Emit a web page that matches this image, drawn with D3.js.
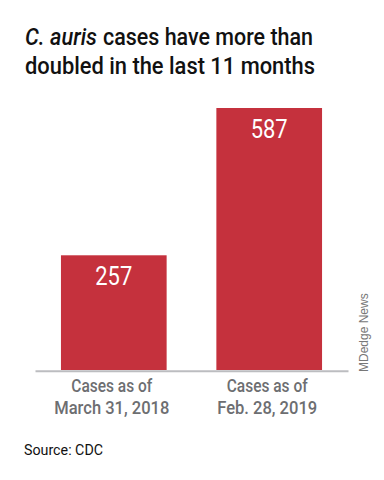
<!DOCTYPE html>
<html>
<head>
<meta charset="utf-8">
<script src="https://cdn.jsdelivr.net/npm/d3@7"></script>
<style>
  body { margin: 0; background: #fff; }
  svg { display: block; }
  .cond { font-family: "Roboto", "Liberation Sans", sans-serif; }
</style>
</head>
<body>
<svg id="chart" width="384" height="480"></svg>
<script>
// Data
const categories = ["March 31, 2018", "Feb. 28, 2019"];
const catPrefix = ["Cases as of", "Cases as of"];
const cases = [257, 587];
// measured label widths, used to squeeze Roboto into a condensed look
const catWidths = [115, 100];
const prefixWidth = 81;

const svg = d3.select("#chart");
const width = 384;
const height = 480;
const baseY = 370;

// Scales
const x = d3.scaleBand()
  .domain(categories)
  .range([35, 348])
  .paddingInner(0.32)
  .paddingOuter(0.167);

const y = d3.scaleLinear()
  .domain([0, 587])
  .range([baseY, 108]);

// Title
const title = svg.append("text")
  .attr("class", "cond")
  .attr("y", 45)
  .attr("font-size", 23)
  .attr("font-weight", 500)
  .attr("fill", "#111");
title.append("tspan")
  .attr("x", 25)
  .attr("font-style", "italic")
  .attr("textLength", 72)
  .attr("lengthAdjust", "spacingAndGlyphs")
  .text("C. auris");
title.append("tspan")
  .attr("x", 103)
  .attr("textLength", 210)
  .attr("lengthAdjust", "spacingAndGlyphs")
  .text("cases have more than");

svg.append("text")
  .attr("class", "cond")
  .attr("x", 25)
  .attr("y", 74)
  .attr("font-size", 23)
  .attr("font-weight", 500)
  .attr("fill", "#111")
  .attr("textLength", 290)
  .attr("lengthAdjust", "spacingAndGlyphs")
  .text("doubled in the last 11 months");

// Bars
svg.selectAll("rect.bar")
  .data(cases)
  .join("rect")
  .attr("class", "bar")
  .attr("x", (d, i) => x(categories[i]))
  .attr("y", d => y(d))
  .attr("width", x.bandwidth())
  .attr("height", d => baseY - y(d))
  .attr("fill", "#c5313d");

// Value labels
svg.selectAll("text.val")
  .data(cases)
  .join("text")
  .attr("class", "val cond")
  .attr("x", (d, i) => x(categories[i]) + x.bandwidth() / 2)
  .attr("y", d => y(d) + 30)
  .attr("text-anchor", "middle")
  .attr("font-size", 25)
  .attr("fill", "#fff")
  .attr("textLength", 37)
  .attr("lengthAdjust", "spacingAndGlyphs")
  .text(d => d);

// Baseline
const xAxis = svg.append("g")
  .attr("transform", `translate(0,${baseY + 0.8})`)
  .call(d3.axisBottom(x).tickSize(0).tickFormat(""));
xAxis.select(".domain").attr("stroke", "#bcbdc0").attr("stroke-width", 2);

// Category labels
const catLabels = svg.selectAll("text.cat")
  .data(categories)
  .join("text")
  .attr("class", "cat cond")
  .attr("text-anchor", "middle")
  .attr("font-size", 19)
  .attr("font-weight", 500)
  .attr("fill", "#6d6e71");
catLabels.append("tspan")
  .attr("x", d => x(d) + x.bandwidth() / 2 - 2)
  .attr("y", 392)
  .attr("textLength", prefixWidth)
  .attr("lengthAdjust", "spacingAndGlyphs")
  .text((d, i) => catPrefix[i]);
catLabels.append("tspan")
  .attr("x", d => x(d) + x.bandwidth() / 2 - 2)
  .attr("y", 414)
  .attr("textLength", (d, i) => catWidths[i])
  .attr("lengthAdjust", "spacingAndGlyphs")
  .text(d => d);

// Source
svg.append("text")
  .attr("class", "cond")
  .attr("x", 24)
  .attr("y", 455)
  .attr("font-size", 15)
  .attr("fill", "#111")
  .attr("textLength", 79)
  .attr("lengthAdjust", "spacingAndGlyphs")
  .text("Source: CDC");

// Credit
svg.append("text")
  .attr("transform", `translate(368,372) rotate(-90)`)
  .attr("font-family", "Liberation Sans, Arial, sans-serif")
  .attr("font-size", 12)
  .attr("fill", "#777")
  .text("MDedge News");
</script>
</body>
</html>
